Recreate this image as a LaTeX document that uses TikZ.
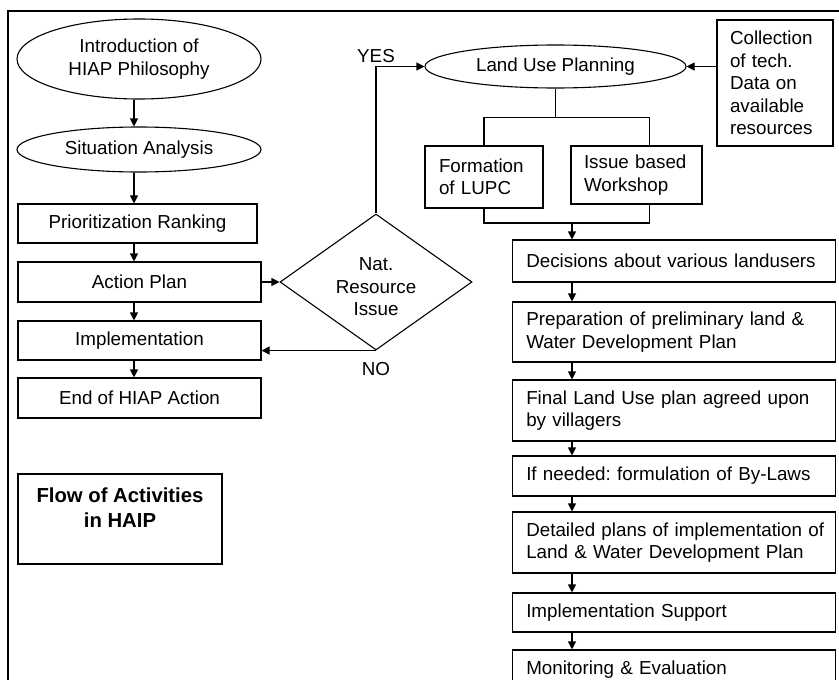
\documentclass[tikz,border=0pt]{standalone}
\usepackage{fontspec}
\setmainfont{Liberation Sans}
\usetikzlibrary{shapes.geometric,arrows.meta}
\frenchspacing

\tikzset{
	cbox/.style={draw, line width=1.1pt, inner sep=0pt, align=center},
	tbox/.style={draw, line width=1.1pt, inner xsep=14pt, inner ysep=0pt, align=left},
	oval/.style={draw, ellipse, line width=1.1pt, inner sep=0pt, align=center},
	link/.style={line width=1.1pt},
	arr/.style={line width=1.1pt, -{Triangle[length=8pt,width=8pt]}},
}

\begin{document}
\begin{tikzpicture}[x=1pt, y=-1pt, font=\fontsize{18.8}{22.5}\selectfont]
	\clip (0,0) rectangle (839,680);
	\draw[line width=2.3pt] (7.7,690) -- (7.7,11.2) -- (850,11.2);

	% left column
	\node[oval, minimum width=244pt, minimum height=80pt] (intro) at (139,59) {Introduction of\\HIAP Philosophy};
	\node[oval, minimum width=244pt, minimum height=45pt] (situ) at (139,149.5) {Situation Analysis};
	\node[cbox, minimum width=239pt, minimum height=39pt] (prio) at (137.5,223.5) {Prioritization Ranking};
	\node[cbox, minimum width=243pt, minimum height=40pt] (act) at (139.5,282) {Action Plan};
	\node[cbox, minimum width=243pt, minimum height=39pt] (impl) at (139.5,340.5) {Implementation};
	\node[cbox, minimum width=243pt, minimum height=40pt] (hend) at (139.5,398) {End of HIAP Action};
	\node[cbox, minimum width=204pt, minimum height=90pt,
		label={[anchor=north, inner sep=0pt, yshift=-14pt, align=center, font=\fontsize{20.3}{25}\selectfont\bfseries]north:Flow of Activities\\in HAIP}] (title) at (120,519) {};

	\node[draw, diamond, shape aspect=1.4, line width=1.1pt, inner sep=0pt, align=center,
		minimum width=192pt, minimum height=136pt, text height=68pt] (nat) at (376,282) {Nat.\\Resource\\Issue};

	% right column
	\node[oval, minimum width=261pt, minimum height=43pt] (lup) at (555.5,66.5) {Land Use Planning};
	\node[tbox, inner xsep=13pt, text width=90pt, minimum height=126pt] (coll) at (775,83) {Collection\\of tech.\\Data on\\available\\resources};
	\node[tbox, text width=90pt, minimum height=62pt] (form) at (484,177) {Formation\\of LUPC};
	\node[tbox, inner xsep=13pt, text width=105pt, minimum height=58pt] (issue) at (636.5,175) {Issue based\\Workshop};
	\node[tbox, text width=295pt, minimum height=42pt] (dec) at (673.75,261) {Decisions about various landusers};
	\node[tbox, text width=295pt, minimum height=60pt] (prep) at (673.75,332) {Preparation of preliminary land \&\\Water Development Plan};
	\node[tbox, text width=295pt, minimum height=61pt] (final) at (673.75,410.5) {Final Land Use plan agreed upon\\by villagers};
	\node[tbox, text width=295pt, minimum height=40pt] (laws) at (673.75,476) {If needed: formulation of By-Laws};
	\node[tbox, text width=295pt, minimum height=61pt] (detail) at (673.75,542.5) {\mbox{Detailed plans of implementation of}\\Land \& Water Development Plan};
	\node[tbox, text width=295pt, minimum height=39pt] (supp) at (673.75,612.5) {Implementation Support};
	\node[tbox, text width=295pt, minimum height=39pt] (mon) at (673.75,669.5) {Monitoring \& Evaluation};

	% connectors
	\coordinate (laxis) at (134,0);
	\coordinate (raxis) at (572,0);
	\foreach \a/\b in {intro/situ, situ/prio, prio/act, act/impl, impl/hend}
		\draw[arr] (\a.south -| laxis) -- (\b.north -| laxis);
	\draw[arr] (act.east) -- (nat.west);
	\draw[arr] (nat.south) node[below=8pt] {NO} -- (nat.south -| impl.east);
	\draw[arr] (nat.north) |- node[above, pos=0.5] {YES} (lup.west);
	\draw[arr] (coll.west |- lup.east) -- (lup.east);

	\draw[link] (lup.south) -- ++(0,29) coordinate (split);
	\draw[link] (form.north) |- (split) -| ([xshift=13pt]issue.north);
	\coordinate (merge) at (572,223);
	\draw[link] (form.south) |- (merge) -| ([xshift=13pt]issue.south);
	\draw[arr] (merge) -- (dec.north -| merge);
	\foreach \a/\b in {dec/prep, prep/final, final/laws, laws/detail, detail/supp, supp/mon}
		\draw[arr] (\a.south -| raxis) -- (\b.north -| raxis);
\end{tikzpicture}
\end{document}
